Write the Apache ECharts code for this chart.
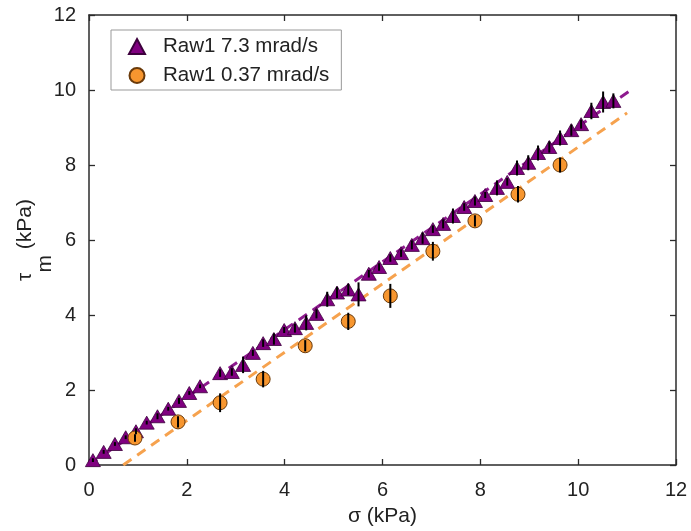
<!DOCTYPE html>
<html>
<head>
<meta charset="utf-8">
<script src="https://cdn.jsdelivr.net/npm/echarts@6/dist/echarts.min.js"></script>
<style>html,body{margin:0;padding:0;background:#fff}#c{width:691px;height:531px}</style>
</head>
<body>
<div id="c"></div>
<script>
// Fast series (triangles): sigma, tau_m, error half-length
const fastX = [0.08,0.3,0.53,0.75,0.96,1.18,1.4,1.62,1.84,2.05,2.27,2.68,2.92,3.15,3.35,3.56,3.78,3.99,4.21,4.44,4.65,4.87,5.07,5.3,5.51,5.72,5.93,6.16,6.38,6.6,6.82,7.03,7.24,7.44,7.67,7.89,8.1,8.34,8.55,8.75,8.98,9.18,9.41,9.63,9.86,10.06,10.27,10.51,10.72];
const fastY = [0.13,0.35,0.56,0.74,0.9,1.13,1.3,1.5,1.71,1.92,2.1,2.45,2.48,2.67,2.99,3.25,3.36,3.6,3.65,3.79,4.03,4.42,4.6,4.68,4.55,5.1,5.28,5.52,5.65,5.87,6.05,6.29,6.43,6.64,6.88,7.04,7.2,7.39,7.55,7.92,8.06,8.32,8.48,8.72,8.93,9.09,9.44,9.68,9.71];
const fastErr = [0.05,0.05,0.05,0.05,0.08,0.05,0.08,0.05,0.08,0.05,0.05,0.1,0.1,0.22,0.08,0.1,0.15,0.08,0.12,0.2,0.12,0.2,0.15,0.15,0.32,0.1,0.1,0.1,0.1,0.12,0.15,0.1,0.12,0.2,0.1,0.12,0.08,0.2,0.1,0.2,0.2,0.2,0.15,0.2,0.15,0.12,0.22,0.28,0.2];
// Slow series (circles)
const slowX = [0.94,1.82,2.68,3.56,4.42,5.3,6.16,7.03,7.89,8.77,9.63];
const slowY = [0.72,1.15,1.66,2.29,3.18,3.83,4.51,5.7,6.51,7.22,8.0];
const slowErr = [0.1,0.15,0.25,0.22,0.15,0.23,0.32,0.25,0.15,0.22,0.2];
// Linear fits (endpoints)
const fitFastX = [0, 11.1];
const fitFastY = [0, 10.02];
const fitSlowX = [0.7, 11.0];
const fitSlowY = [0, 9.39];
const xTicks = [0,2,4,6,8,10,12];
const yTicks = [0,2,4,6,8,10,12];
const names = ['Raw1 7.3 mrad/s','Raw1 0.37 mrad/s'];

const zip = (a,b,c) => a.map((v,i)=> c ? [v,b[i],c[i]] : [v,b[i]]);
const FONT = '"Liberation Sans", Arial, sans-serif';
const axisCol = '#2b2b2b';
const txtCol = '#222';

function errRender(params, api){
  const x = api.value(0), y = api.value(1), e = api.value(2);
  const p1 = api.coord([x, y-e]), p2 = api.coord([x, y+e]);
  return {type:'line', shape:{x1:p1[0],y1:p1[1],x2:p2[0],y2:p2[1]}, style:{stroke:'#000', lineWidth:2}};
}

const chart = echarts.init(document.getElementById('c'), null, {renderer:'canvas'});
const baseAxis = {
  min:0, max:12, interval:2,
  axisLine:{show:true, onZero:false, lineStyle:{color:axisCol, width:1.5}},
  axisTick:{show:true, inside:true, length:6, lineStyle:{color:axisCol, width:1.3}},
  splitLine:{show:false}
};
chart.setOption({
  animation:false,
  backgroundColor:'#fff',
  grid:{left:89, right:15, top:15, bottom:66, containLabel:false, outerBoundsMode:'none'},
  legend:{
    data:names, orient:'vertical', left:111, top:30,
    backgroundColor:'#fff', borderColor:'#999', borderWidth:1,
    padding:[6,12,4,17], itemGap:8, itemWidth:16, itemHeight:15,
    textStyle:{fontFamily:FONT, fontSize:20.5, color:txtCol, padding:[0,0,0,13]}
  },
  xAxis:[
    Object.assign({}, baseAxis, {type:'value', position:'bottom',
      name:'σ (kPa)', nameLocation:'middle', nameGap:41, nameMoveOverlap:false,
      nameTextStyle:{fontFamily:FONT, fontSize:21, color:txtCol},
      axisLabel:{fontFamily:FONT, fontSize:20, color:txtCol, margin:15, formatter:v=>xTicks.includes(v)?String(v):''}}),
    Object.assign({}, baseAxis, {type:'value', position:'top', axisLabel:{show:false}})
  ],
  yAxis:[
    Object.assign({}, baseAxis, {type:'value', position:'left',
      name:'{t|τ}{s|m}{k| (kPa)}', nameLocation:'middle', nameGap:33, nameMoveOverlap:false,
      nameTextStyle:{fontFamily:FONT, fontSize:21, color:txtCol,
        rich:{t:{fontFamily:FONT, fontSize:21, color:txtCol, lineHeight:41, verticalAlign:'top'},
              s:{fontFamily:FONT, fontSize:21, color:txtCol, lineHeight:41, verticalAlign:'bottom'},
              k:{fontFamily:FONT, fontSize:21, color:txtCol, lineHeight:41, verticalAlign:'top'}}},
      axisLabel:{fontFamily:FONT, fontSize:20, color:txtCol, margin:13, formatter:v=>yTicks.includes(v)?String(v):''}}),
    Object.assign({}, baseAxis, {type:'value', position:'right', axisLabel:{show:false}})
  ],
  series:[
    {type:'line', data:zip(fitSlowX, fitSlowY), symbol:'none', silent:true, z:1,
      lineStyle:{color:'#F6A24E', width:3, type:[10,7]}},
    {type:'line', data:zip(fitFastX, fitFastY), symbol:'none', silent:true, z:1,
      lineStyle:{color:'#8E1A8E', width:3, type:[10,7]}},
    {name:names[0], type:'scatter', data:zip(fastX, fastY), symbol:'triangle', symbolSize:[15,13], z:3,
      itemStyle:{color:'#800080', borderColor:'#3d003d', borderWidth:0.8, opacity:1}},
    {name:names[1], type:'scatter', data:zip(slowX, slowY), symbol:'circle', symbolSize:14, z:3,
      itemStyle:{color:'#F7962F', borderColor:'#6a3a0a', borderWidth:1, opacity:1}},
    {type:'custom', data:zip(fastX, fastY, fastErr), renderItem:errRender, z:4, silent:true},
    {type:'custom', data:zip(slowX, slowY, slowErr), renderItem:errRender, z:4, silent:true}
  ]
});
</script>
</body>
</html>
